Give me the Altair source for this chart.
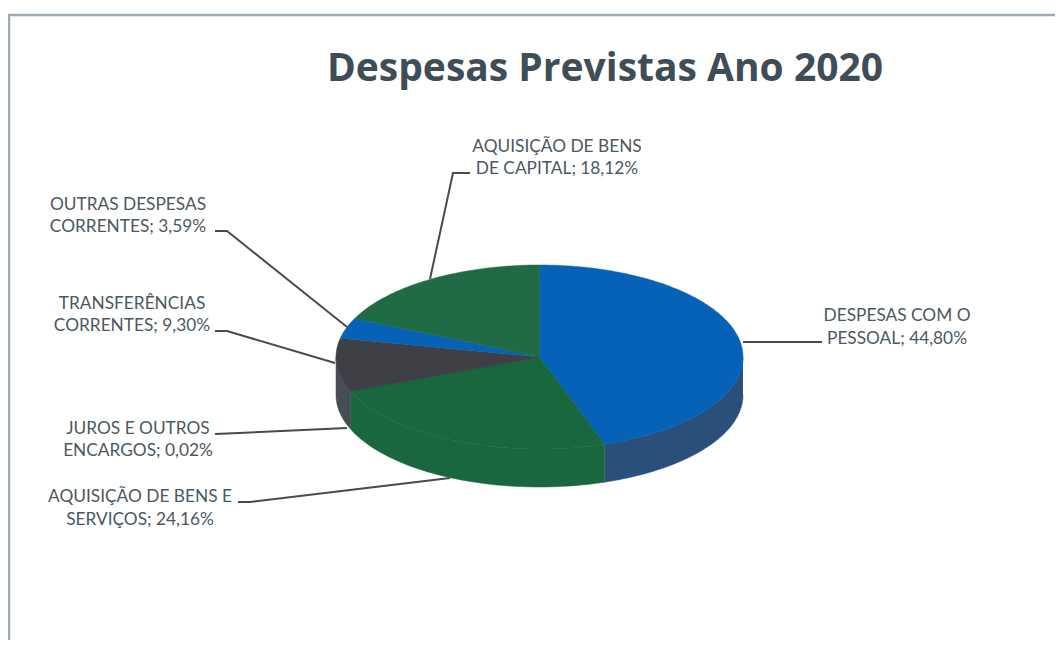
import math
import altair as alt
import pandas as pd

# Chart values
TITLE = "Despesas Previstas Ano 2020"
categories = ["DESPESAS COM O PESSOAL", "AQUISIÇÃO DE BENS E SERVIÇOS", "JUROS E OUTROS ENCARGOS",
              "TRANSFERÊNCIAS CORRENTES", "OUTRAS DESPESAS CORRENTES", "AQUISIÇÃO DE BENS DE CAPITAL"]
shares = [44.80, 24.16, 0.02, 9.30, 3.59, 18.12]
label_line1 = ["DESPESAS COM O", "AQUISIÇÃO DE BENS E", "JUROS E OUTROS", "TRANSFERÊNCIAS",
               "OUTRAS DESPESAS", "AQUISIÇÃO DE BENS"]
label_line2 = ["PESSOAL; 44,80%", "SERVIÇOS; 24,16%", "ENCARGOS; 0,02%", "CORRENTES; 9,30%",
               "CORRENTES; 3,59%", "DE CAPITAL; 18,12%"]

# Styles and layout (reference page pixels)
top_colors = ["#0562b6", "#19663f", "#3f4449", "#3e4045", "#0562b6", "#216a46"]
wall_colors = ["#2a4f7a", "#19663f", "#4a5057", "#474d54", "#2a4f7a", "#216a46"]
label_x = [897, 140, 138, 132, 128, 557]
label_y1 = [314, 495, 427, 302, 203, 145]
label_y2 = [337, 518, 449, 324, 225, 167]
leaders = [
    [(743, 342), (822, 342)],
    [(450, 478), (250, 502), (238, 502)],
    [(347, 428), (215, 434)],
    [(335, 363), (227, 331), (215, 331)],
    [(347, 327), (227, 231), (215, 231)],
    [(430, 279), (453, 173), (470, 173)],
]
CX, CY, RX, RY, DEPTH = 539.5, 357, 203.5, 92, 38
W, H = 1047, 632
xs = alt.Scale(domain=[8, 8 + W], nice=False, zero=False)
ys = alt.Scale(domain=[8 + H, 8], nice=False, zero=False)
X = lambda f="x": alt.X(f"{f}:Q", scale=xs, axis=None)
Y = lambda f="y": alt.Y(f"{f}:Q", scale=ys, axis=None)


def rim(deg, dy=0.0):
    a = math.radians(deg)
    return CX + RX * math.sin(a), CY - RY * math.cos(a) + dy


def edge(d0, d1, dy=0.0):
    n = max(2, int(abs(d1 - d0)) + 2)
    return [rim(d0 + (d1 - d0) * k / (n - 1), dy) for k in range(n)]


def polygon(points, color):
    df = pd.DataFrame(points, columns=["x", "y"])
    df["i"] = range(len(df))
    return alt.Chart(df).mark_line(fill=color, stroke=color, strokeWidth=0.5, clip=False).encode(
        x=X(), y=Y(), order="i:Q")


total = sum(shares)
starts, a = [], 0.0
for s in shares:
    starts.append((a, a + s / total * 360))
    a += s / total * 360

layers = []
# frame
frame = pd.DataFrame({"x": [9.0, 9.0, 8 + W], "y": [8 + H, 15, 15], "i": [0, 1, 2]})
layers.append(alt.Chart(frame).mark_line(color="#9dabb8", strokeWidth=2.5).encode(x=X(), y=Y(), order="i:Q"))

# side walls (front half only)
for (d0, d1), c in zip(starts, wall_colors):
    lo, hi = max(d0, 90), min(d1, 270)
    if hi > lo:
        layers.append(polygon(edge(lo, hi) + edge(hi, lo, DEPTH), c))
# top faces
for (d0, d1), c in zip(starts, top_colors):
    layers.append(polygon([(CX, CY)] + edge(d0, d1) + [(CX, CY)], c))

# leader lines
for k, pts in enumerate(leaders):
    df = pd.DataFrame(pts, columns=["x", "y"])
    df["i"] = range(len(df))
    layers.append(alt.Chart(df).mark_line(color="#474b4f", strokeWidth=2).encode(x=X(), y=Y(), order="i:Q"))

# labels
lab = pd.DataFrame({"x": label_x * 2, "y": label_y1 + label_y2, "t": label_line1 + label_line2})
layers.append(alt.Chart(lab).mark_text(font="Lato", fontSize=17.3, color="#4b5862", align="center",
                                       baseline="middle", dy=2).encode(x=X(), y=Y(), text="t:N"))
ttl = pd.DataFrame({"x": [605], "y": [67], "t": [TITLE]})
layers.append(alt.Chart(ttl).mark_text(font="Open Sans", fontWeight="bold", fontSize=39, color="#3f4d57",
                                       align="center", baseline="middle", dy=2).encode(x=X(), y=Y(), text="t:N"))

chart = alt.layer(*layers).properties(
    width=W, height=H, background="white",
    padding={"left": 0, "right": 0, "top": 0, "bottom": 0},
    autosize=alt.AutoSizeParams(type="none", contains="padding"),
).configure_view(stroke=None)
chart.save("out.html", embed_options={"renderer": "svg", "actions": False})
